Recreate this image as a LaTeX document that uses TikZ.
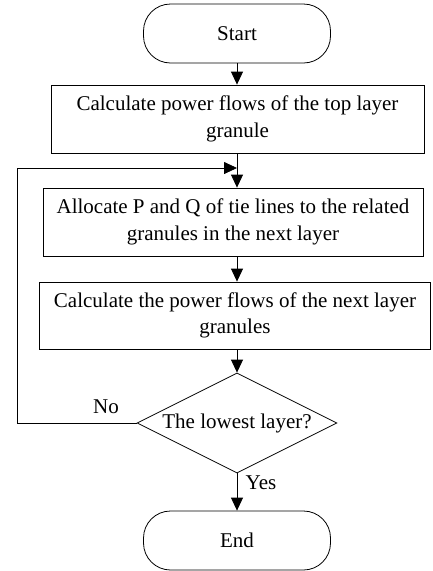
\documentclass[tikz,border=0pt]{standalone}
\usepackage{fontspec}
\setmainfont{Liberation Serif}
\usetikzlibrary{arrows.meta,shapes.geometric}
\begin{document}
\begin{tikzpicture}[x=1pt,y=1pt,
  every node/.style={font=\fontsize{21}{26.5}\selectfont},
  line/.style={line width=0.8pt},
  flow/.style={line, -{Triangle[length=13pt,width=12pt]}},
  terminal/.style={draw, line width=0.8pt, rounded corners=27pt, inner sep=0pt},
  procbox/.style={draw, line width=0.8pt, align=center, inner sep=0pt},
  decision/.style={draw, line width=0.8pt, diamond, aspect=2, inner sep=0pt}
]
\useasboundingbox (0,0) rectangle (432,-571);

\node[terminal, minimum width=187pt, minimum height=59pt] (start) at (237,-33.5) {Start};
\node[procbox, minimum width=373pt, minimum height=68pt] (b1) at (237.5,-119)
  {Calculate power flows of the top layer\\granule};
\node[procbox, minimum width=380pt, minimum height=68pt] (b2) at (233,-222)
  {Allocate P and Q of tie lines to the related\\granules in the next layer};
\node[procbox, minimum width=391pt, minimum height=67pt] (b3) at (235,-315.5)
  {Calculate the power flows of the next layer\\granules};
\node[decision, minimum width=200pt, minimum height=100pt] (dec) at (237,-423)
  {The lowest layer?};
\node[terminal, minimum width=187pt, minimum height=59pt] (end) at (237,-540.5) {End};

\coordinate (merge) at (237,-168);
\coordinate (corner) at (17,-423);

\draw[flow] (start.south) -- (start.south |- b1.north);
\draw[flow] (merge |- b1.south) -- (merge |- b2.north);
\draw[flow] (dec.west) -- (corner) |- (merge);
\draw[flow] (merge |- b2.south) -- (merge |- b3.north);
\draw[flow] (merge |- b3.south) -- (dec.north);
\draw[flow] (dec.south) -- (end.north);

\node (no) at (106,-407) {No};
\node (yes) at (261,-483) {Yes};
\end{tikzpicture}
\end{document}
